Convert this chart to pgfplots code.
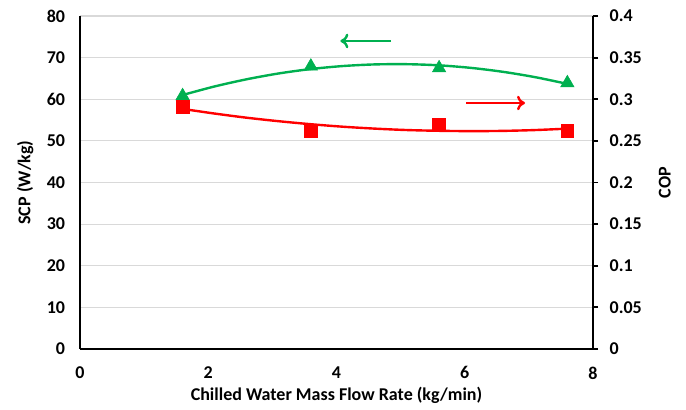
\documentclass[border=0pt]{standalone}
\usepackage{pgfplots}
\pgfplotsset{compat=1.18}
\usetikzlibrary{arrows.meta}
\usepackage{fontspec}
\setmainfont{Carlito}
\definecolor{xlgreen}{HTML}{00B050}
\definecolor{xlred}{HTML}{FF0000}
\definecolor{gridgray}{HTML}{D9D9D9}
\newcommand{\lbl}{\fontsize{13.5}{15}\selectfont\bfseries}

\begin{document}
\begin{tikzpicture}
\pgfplotsset{
  every axis/.append style={
    scale only axis, width=384.75pt, height=249.75pt,
    xmin=0, xmax=8,
    /pgf/number format/assume math mode=true,
    tick label style={font=\lbl, inner sep=0pt},
    label style={font=\lbl},
    axis line style={line width=1.6pt},
  }
}
% left axis: SCP
\begin{axis}[
  name=ax,
  axis x line*=bottom, axis y line*=left,
  ymin=0, ymax=80, ytick={0,10,...,80},
  xtick={0,2,4,6,8},
  ymajorgrids, grid style={gridgray, line width=0.9pt},
  major tick style={draw=none},
  xticklabel style={yshift=-13pt},
  yticklabel style={xshift=-11pt},
  xlabel={Chilled Water Mass Flow Rate (kg/min)},
  ylabel={SCP (W/kg)},
  xlabel style={at={(axis description cs:0.5,-0.138)}, anchor=center},
  ylabel style={at={(axis description cs:-0.107,0.5)}, anchor=center},
  clip=false,
]
\addplot[xlgreen, line width=1.8pt, smooth] coordinates {
  (1.6,61.02) (2.1,63.08) (2.6,64.80) (3.1,66.20) (3.6,67.26) (4.1,67.98)
  (4.6,68.37) (5.1,68.42) (5.6,68.15) (6.1,67.53) (6.6,66.58) (7.1,65.30) (7.6,63.69)};
\addplot[only marks, mark=triangle*, mark size=5.8pt, xlgreen] coordinates {
  (1.6,60.8) (3.6,67.9) (5.6,67.5) (7.6,63.9)};
\draw[xlgreen, line width=1.8pt, -{To[length=6pt,width=11pt]}] (axis cs:4.85,74) -- (axis cs:4.06,74);
\draw[xlred, line width=1.8pt, -{To[length=6pt,width=11pt]}] (axis cs:6.02,59.1) -- (axis cs:6.94,59.1);
\end{axis}
% right axis: COP
\begin{axis}[
  axis x line=none, axis y line*=right,
  ymin=0, ymax=0.4, ytick={0,0.05,...,0.4},
  yticklabel style={/pgf/number format/fixed, /pgf/number format/precision=2, xshift=8.5pt},
  ytick style={black, line width=1.4pt},
  major tick length=3.8pt,
  tick align=outside,
  ylabel={COP},
  ylabel style={at={(axis description cs:1.140,0.5)}, anchor=center},
  clip=false,
]
\addplot[xlred, line width=1.8pt, smooth] coordinates {
  (1.6,0.2884) (2.1,0.2828) (2.6,0.2778) (3.1,0.2736) (3.6,0.2700) (4.1,0.2670)
  (4.6,0.2647) (5.1,0.2630) (5.6,0.2621) (6.1,0.2617) (6.6,0.2620) (7.1,0.2630) (7.6,0.2647)};
\addplot[only marks, mark=square*, mark size=4.8pt, xlred] coordinates {
  (1.6,0.291) (3.6,0.262) (5.6,0.270) (7.6,0.262)};
\end{axis}
\pgfresetboundingbox
\path[use as bounding box] ([xshift=-60pt, yshift=-45pt]ax.south west) rectangle ([xshift=69.75pt, yshift=12pt]ax.north east);
\end{tikzpicture}
\end{document}
